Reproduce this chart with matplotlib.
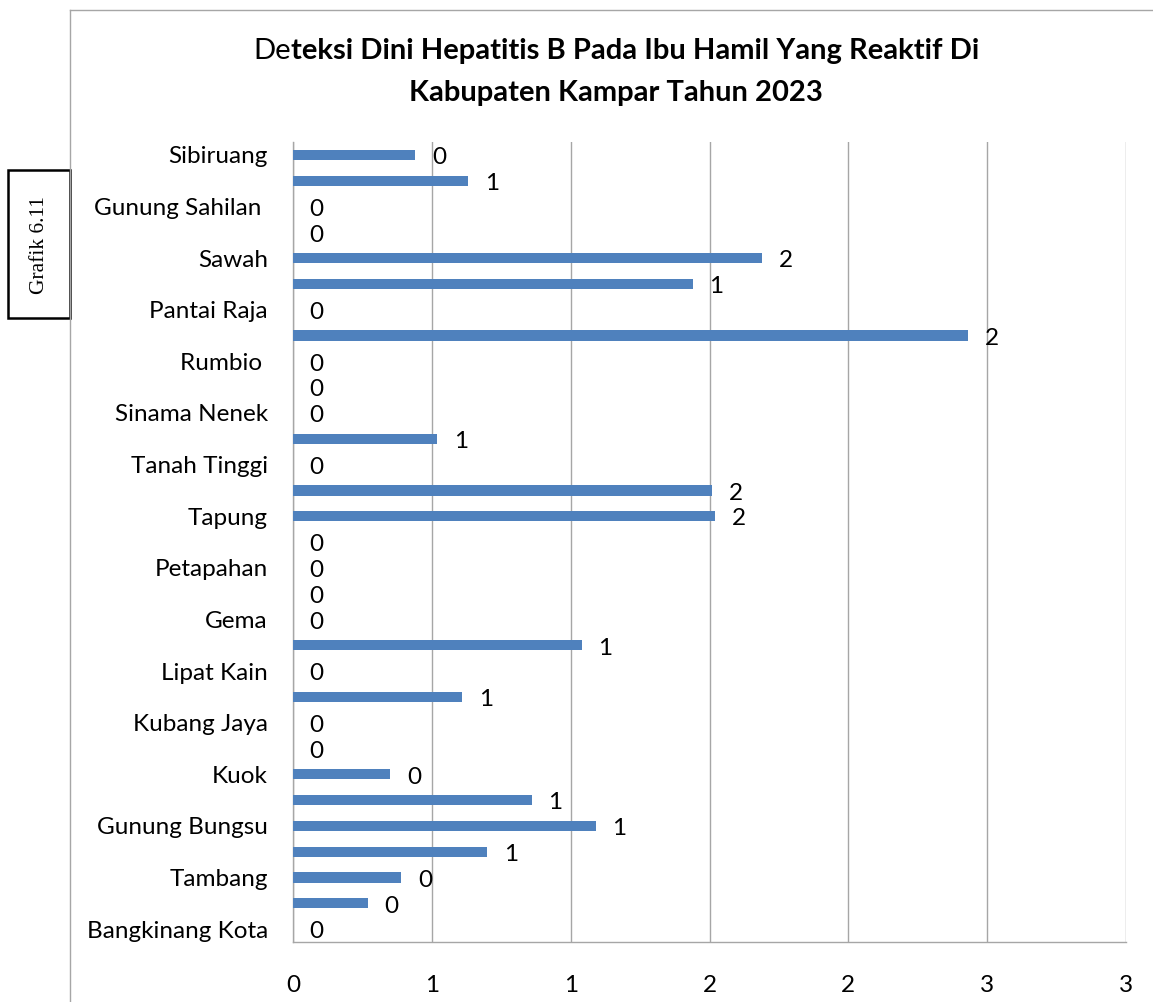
import numpy as np
import matplotlib
matplotlib.use("Agg")
import matplotlib.pyplot as plt
from matplotlib.patches import Rectangle
from matplotlib.lines import Line2D

## Data (top row first)
categories = ["Sibiruang", "", "Gunung Sahilan ", "", "Sawah", "", "Pantai Raja", "",
              "Rumbio ", "", "Sinama Nenek", "", "Tanah Tinggi", "", "Tapung", "",
              "Petapahan", "", "Gema", "", "Lipat Kain", "", "Kubang Jaya", "",
              "Kuok", "", "Gunung Bungsu", "", "Tambang", "", "Bangkinang Kota"]
values = [0.44, 0.63, 0.0, 0.0, 1.69, 1.44, 0.0, 2.43,
          0.0, 0.0, 0.0, 0.52, 0.0, 1.51, 1.52, 0.0,
          0.0, 0.0, 0.0, 1.04, 0.0, 0.61, 0.0, 0.0,
          0.35, 0.86, 1.09, 0.70, 0.39, 0.27, 0.0]
xticks = [0, 0.5, 1.0, 1.5, 2.0, 2.5, 3.0]

FONT = "Lato"
BAR_COLOR = "#4F81BD"
GRID_COLOR = "#A6A6A6"
W, H = 1153, 1002


def excel_round(v):
    # excel "0" format rounds half away from zero
    return "%d" % int(np.floor(v + 0.5))


fig = plt.figure(figsize=(W / 100, H / 100), dpi=100)
ax = fig.add_axes([293 / W, 1 - 942 / H, (1126 - 293) / W, 800 / H])

ypos = np.arange(len(values))
ax.barh(ypos, values, height=0.4, color=BAR_COLOR, zorder=3)
ax.set_ylim(len(values) - 0.5, -0.5)
ax.set_xlim(0, 3)

ax.set_yticks(ypos)
ax.set_yticklabels(categories, fontsize=17.5, family=FONT)
ax.set_xticks(xticks)
ax.set_xticklabels([excel_round(t) for t in xticks], fontsize=17.5, family=FONT)
ax.tick_params(axis="y", length=0, pad=18)
ax.tick_params(axis="x", length=0, pad=24)

ax.xaxis.grid(True, color=GRID_COLOR, lw=1.0, zorder=0)
for s in ["top", "right"]:
    ax.spines[s].set_visible(False)
for s in ["left", "bottom"]:
    ax.spines[s].set_color(GRID_COLOR)
    ax.spines[s].set_linewidth(1.0)

## Data labels
for y, v in zip(ypos, values):
    ax.annotate(excel_round(v), xy=(v, y), xytext=(12, -2), textcoords="offset points",
                ha="left", va="center", fontsize=17.5, family=FONT)

## Chart frame lines
fig.add_artist(Line2D([70 / W, 70 / W], [0, 1 - 10 / H], color=GRID_COLOR, lw=1.0))
fig.add_artist(Line2D([70 / W, 1], [1 - 10 / H, 1 - 10 / H], color=GRID_COLOR, lw=1.0))

## Side box
fig.add_artist(Rectangle((8 / W, 1 - 318 / H), 62 / W, 148 / H, transform=fig.transFigure,
                         fill=False, edgecolor="black", lw=1.8))
fig.text(39 / W, 1 - 245 / H, "Grafik 6.11", rotation=90, ha="center", va="center",
         fontsize=15.5, family="Liberation Serif")

## Title, first two letters not bold
cx = 616 / W
renderer = fig.canvas.get_renderer()
t1 = fig.text(0, 1 - 51 / H, "De", fontsize=21, family=FONT, va="center", ha="left")
t2 = fig.text(0, 1 - 51 / H, "teksi Dini Hepatitis B Pada Ibu Hamil Yang Reaktif Di",
              fontsize=21, family=FONT, weight="bold", va="center", ha="left")
w1 = t1.get_window_extent(renderer).width / W
w2 = t2.get_window_extent(renderer).width / W
x0 = cx - (w1 + w2) / 2
t1.set_x(x0)
t2.set_x(x0 + w1)
fig.text(cx, 1 - 93 / H, "Kabupaten Kampar Tahun 2023", fontsize=21, family=FONT,
         weight="bold", va="center", ha="center")

fig.savefig("out.png", dpi=100)
